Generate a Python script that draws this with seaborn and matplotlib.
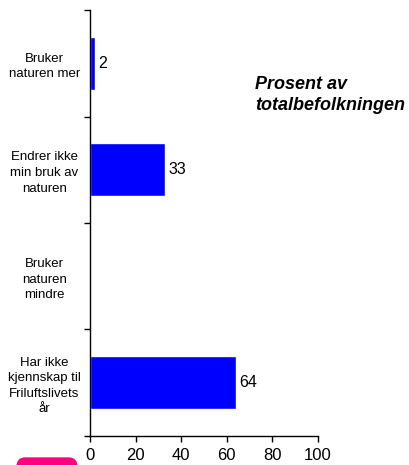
import matplotlib
matplotlib.use("Agg")
import matplotlib.pyplot as plt
import seaborn as sns
import pandas as pd
from matplotlib.patches import FancyBboxPatch

categories = [
    "Bruker\nnaturen mer",
    "Endrer ikke\nmin bruk av\nnaturen",
    "Bruker\nnaturen\nmindre",
    "Har ikke\nkjennskap til\nFriluftslivets\når",
]
values = [2, 33, None, 64]
xticks = [0, 20, 40, 60, 80, 100]

df = pd.DataFrame({"kategori": categories, "prosent": values})

sns.set_style("white")
plt.rcParams["font.family"] = ["Liberation Sans", "DejaVu Sans"]
plt.rcParams["text.color"] = "black"
plt.rcParams["xtick.color"] = "black"
plt.rcParams["ytick.color"] = "black"

fig = plt.figure(figsize=(4.09, 4.65), dpi=100)
ax = fig.add_axes([0.22, 0.0624, 0.5575, 0.916])

sns.barplot(data=df, x="prosent", y="kategori", orient="h", color="#0000FF",
            saturation=1, width=0.5, ax=ax)

for i, v in enumerate(values):
    if v is not None:
        ax.text(v + 1.5, i, str(v), va="center", ha="left", fontsize=11.5,
                color="black")

ax.set_xlim(0, 100)
ax.set_ylim(len(categories) - 0.5, -0.5)
ax.set_xticks(xticks)
ax.set_xticklabels([str(t) for t in xticks], fontsize=12)
ax.set_yticks(range(len(categories)))
ax.set_yticklabels(categories, fontsize=9.5, ha="center", linespacing=1.4)
ax.tick_params(axis="y", which="major", length=0, pad=33)
ax.set_yticks([i - 0.5 for i in range(len(categories) + 1)], minor=True)
ax.tick_params(axis="y", which="minor", length=4, width=1, direction="out", left=True)
ax.tick_params(axis="x", length=4, width=1, direction="out", bottom=True, pad=5)
ax.set_xlabel("")
ax.set_ylabel("")

for s in ["top", "right"]:
    ax.spines[s].set_visible(False)
for s in ["left", "bottom"]:
    ax.spines[s].set_color("black")
    ax.spines[s].set_linewidth(1)

fig.text(255 / 409, 1 - 76 / 465, "Prosent av\ntotalbefolkningen", fontsize=13,
         fontweight="bold", fontstyle="italic", ha="left", va="top", linespacing=1.3)

# pink shape in lower left corner
fig.patches.append(FancyBboxPatch((17 / 409, -0.02), 60 / 409, 0.035,
                                  boxstyle="round,pad=0,rounding_size=0.02",
                                  transform=fig.transFigure, color="#FF0080",
                                  zorder=0))

fig.savefig("out.png", dpi=100)
